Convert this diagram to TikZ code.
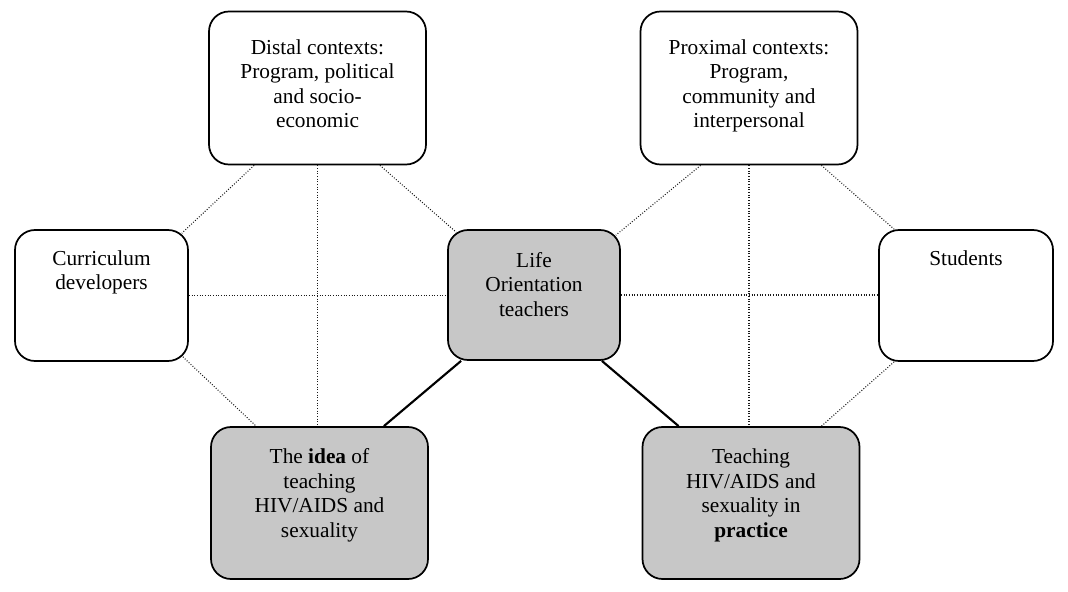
\documentclass[tikz,border=0pt]{standalone}
\usepackage{fontspec}
\setmainfont{Liberation Serif}
\usetikzlibrary{calc}
% text set at the top of a box: width, height, top gap, lines
\newcommand{\boxtxt}[4]{\parbox[c][#2][t]{#1}{\centering\vspace*{#3}\strut #4}}

\begin{document}
\begin{tikzpicture}[x=0.75pt,y=0.75pt,yscale=-1,xscale=1,
	box/.style={draw, rounded corners=15pt, line width=1.3pt, inner sep=0pt, font=\fontsize{16}{18.4}\selectfont},
	shade/.style={box, fill=black!22},
	link/.style={line width=0.8pt, dash pattern=on 0.7pt off 1.3pt, black!90},
	tie/.style={line width=1.6pt}]
	\useasboundingbox (0,0) rectangle (1068,592);
	
	%Shape: Rounded boxes
	\node [box] (dist) at (317.5,88) {\boxtxt{162.75pt}{114.75pt}{19pt}{Distal contexts:\\Program, political\\and socio-\\economic}};
	\node [box] (prox) at (749,88) {\boxtxt{162.75pt}{114.75pt}{19pt}{Proximal contexts:\\Program,\\community and\\interpersonal}};
	\node [box] (curr) at (101.5,295.5) {\boxtxt{129.75pt}{98.25pt}{13.5pt}{Curriculum\\developers}};
	\node [shade] (lot) at (534,295) {\boxtxt{129pt}{97.5pt}{15pt}{Life\\Orientation\\teachers}};
	\node [box] (stud) at (966,295.5) {\boxtxt{130.5pt}{98.25pt}{13.5pt}{Students}};
	\node [shade] (idea) at (319.5,503) {\boxtxt{162.75pt}{114pt}{14.5pt}{The \textbf{idea} of\\teaching\\HIV/AIDS and\\sexuality}};
	\node [shade] (prac) at (751,503) {\boxtxt{162.75pt}{114pt}{14.5pt}{Teaching\\HIV/AIDS and\\sexuality in\\\textbf{practice}}};
	
	%Dotted Lines
	\draw [link] ($(dist.south west)+(46,0)$) -- ($(curr.north east)+(-7,4)$);
	\draw [link] (dist.south) -- (dist.south |- idea.north);
	\draw [link] ($(dist.south east)+(-47,0)$) -- ($(lot.north west)+(9,3)$);
	\draw [link] (curr.east) -- (curr.east -| lot.west);
	\draw [link] ($(curr.south east)+(-6,-5)$) -- ($(idea.north west)+(46,0)$);
	\draw [link] ($(prox.south west)+(61,0)$) -- ($(lot.north east)+(-5,6)$);
	\draw [link] (prox.south) -- (prox.south |- prac.north);
	\draw [link] ($(prox.south east)+(-37,0)$) -- ($(stud.north west)+(16,0)$);
	\draw [link] (lot.east) -- (lot.east -| stud.west);
	\draw [link] ($(stud.south west)+(16,0)$) -- ($(prac.north east)+(-39,0)$);
	
	%Straight Lines
	\draw [tie] ($(lot.south west)+(14,0)$) -- ($(idea.north east)+(-45,0)$);
	\draw [tie] ($(lot.south east)+(-19,0)$) -- ($(prac.north west)+(37,0)$);
	
\end{tikzpicture}
\end{document}
